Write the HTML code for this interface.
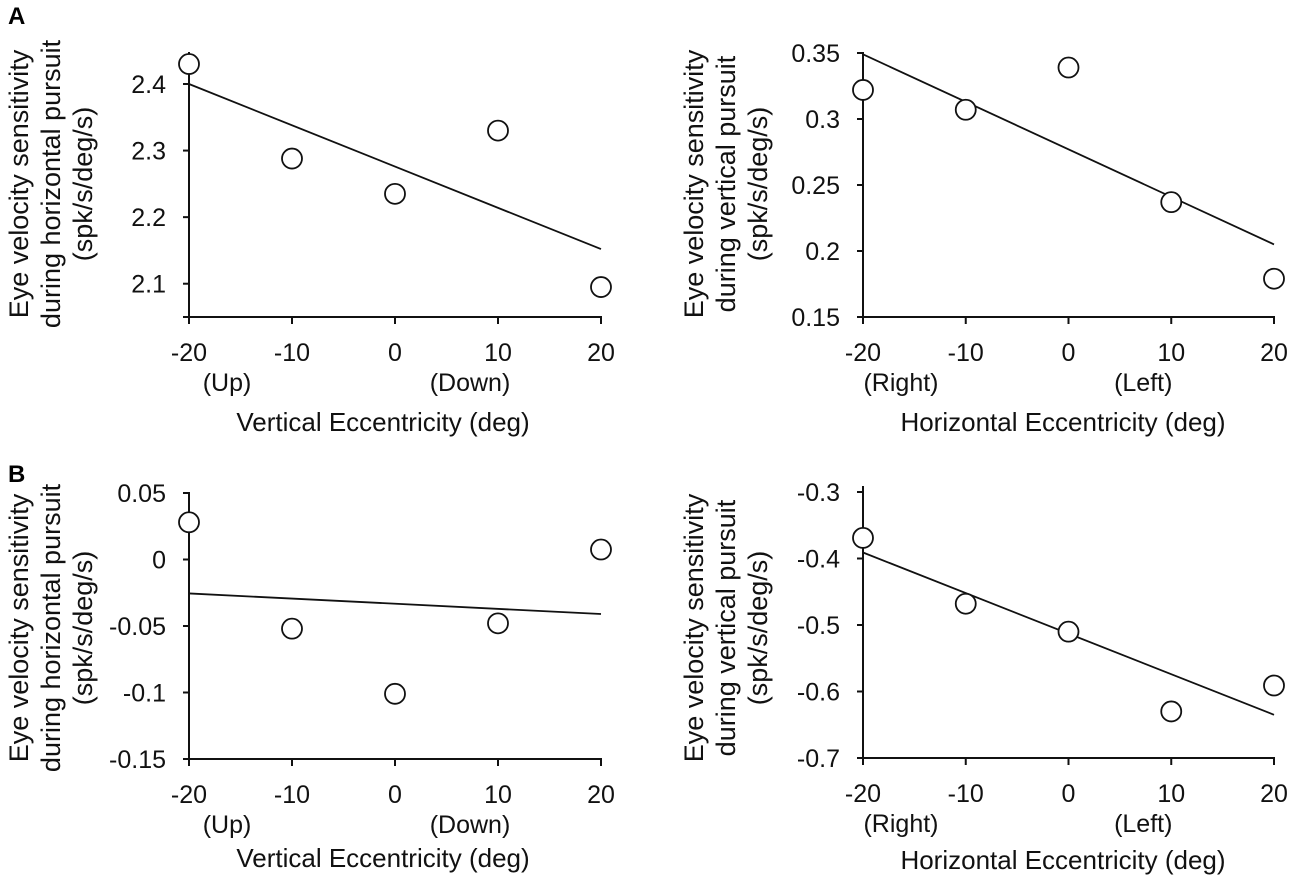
<!DOCTYPE html>
<html><head><meta charset="utf-8"><style>
html,body{margin:0;padding:0;background:#fff;}
svg{display:block;font-family:"Liberation Sans",sans-serif;}
</style></head><body>
<svg id="fig" width="1300" height="879" viewBox="0 0 1300 879" xmlns="http://www.w3.org/2000/svg">
<text x="8" y="24" font-size="24" font-weight="bold">A</text>
<text x="8" y="482" font-size="24" font-weight="bold">B</text>
</svg>
<script>
const xTicks = [-20, -10, 0, 10, 20];
const aLeftY = [2.43, 2.288, 2.235, 2.33, 2.095];
const aLeftFit = [2.40, 2.152];
const aLeftTicks = [2.1, 2.2, 2.3, 2.4];
const aRightY = [0.322, 0.307, 0.339, 0.237, 0.179];
const aRightFit = [0.349, 0.205];
const aRightTicks = [0.15, 0.2, 0.25, 0.3, 0.35];
const bLeftY = [0.028, -0.052, -0.101, -0.048, 0.0075];
const bLeftFit = [-0.0255, -0.041];
const bLeftTicks = [-0.15, -0.1, -0.05, 0, 0.05];
const bRightY = [-0.369, -0.468, -0.51, -0.63, -0.591];
const bRightFit = [-0.391, -0.635];
const bRightTicks = [-0.7, -0.6, -0.5, -0.4, -0.3];

const NS = "http://www.w3.org/2000/svg";
const svg = document.getElementById('fig');
function mk(tag, attrs, parent){const e=document.createElementNS(NS,tag);for(const k in attrs)e.setAttribute(k,attrs[k]);(parent||svg).appendChild(e);return e;}

function panel(id, cfg){
  const g = mk('g',{});
  
  
  const x0=cfg.x0,x1=cfg.x1,yb=cfg.yb;
  const xs = v => x0 + (v - (-20)) / 40 * (x1 - x0);
  const ys = v => yb - (v - cfg.ymin) / (cfg.ymax - cfg.ymin) * (yb - cfg.ytop);
  const ya = mk('line',{x1:x0,y1:cfg.axTop,x2:x0,y2:yb+6,stroke:'#111','stroke-width':2},g);
  
  
  const xa = mk('line',{x1:x0-6,y1:yb,x2:x1+1,y2:yb,stroke:'#111','stroke-width':2},g);
  
  
  cfg.yticks.forEach(t=>{
    const y=ys(t);
    mk('line',{x1:x0-6,y1:y,x2:x0,y2:y,stroke:'#111','stroke-width':2},g);
    const tx=mk('text',{x:x0-23,y:y+9,'font-size':25,'text-anchor':'end',fill:'#111'},g);
    tx.textContent=String(t);
    
    
  });
  xTicks.forEach(t=>{
    const x=xs(t);
    mk('line',{x1:x,y1:yb,x2:x,y2:yb+7,stroke:'#111','stroke-width':2},g);
    const tx=mk('text',{x:x,y:yb+44,'font-size':25,'text-anchor':'middle',fill:'#111'},g);
    tx.textContent=String(t);
    
    
  });
  const fl = mk('line',{x1:xs(-20),y1:ys(cfg.fit[0]),x2:xs(20),y2:ys(cfg.fit[1]),stroke:'#111','stroke-width':1.8},g);
  
  
  cfg.vals.forEach((v,i)=>{
    const c=mk('circle',{cx:xs(xTicks[i]),cy:ys(v),r:10,fill:'#fff',stroke:'#111','stroke-width':1.8},g);
    
    
  });
  const d1=mk('text',{x:xs(-20)+38,y:yb+74,'font-size':25,'text-anchor':'middle',fill:'#111'},g);
  d1.textContent=cfg.dir[0];
  
  
  const d2=mk('text',{x:xs(10)-28,y:yb+74,'font-size':25,'text-anchor':'middle',fill:'#111'},g);
  d2.textContent=cfg.dir[1];
  
  
  const xl=mk('text',{x:cfg.xlabX,y:yb+cfg.xlabDy,'font-size':26,'text-anchor':'middle',fill:'#111'},g);
  xl.textContent=cfg.xlab;
  
  
  const yl=mk('text',{'font-size':27,'text-anchor':'middle',fill:'#111',transform:`translate(${cfg.ylabX},${cfg.ylabY}) rotate(-90)`},g);
  
  
  cfg.ylab.forEach((s,i)=>{const ts=mk('tspan',{x:0,y:i*32},yl);ts.textContent=s;});
}

panel('panel-a-left',{x0:189,x1:601,yb:317,ytop:84,ymin:2.05,ymax:2.4,axTop:52,yticks:aLeftTicks,vals:aLeftY,fit:aLeftFit,
  dir:['(Up)','(Down)'],xlab:'Vertical Eccentricity (deg)',xlabX:383,xlabDy:114,
  ylab:['Eye velocity sensitivity','during horizontal pursuit','(spk/s/deg/s)'],ylabX:28,ylabY:184});
panel('panel-a-right',{x0:863,x1:1274,yb:317,ytop:53,ymin:0.15,ymax:0.35,axTop:52,yticks:aRightTicks,vals:aRightY,fit:aRightFit,
  dir:['(Right)','(Left)'],xlab:'Horizontal Eccentricity (deg)',xlabX:1063,xlabDy:114,
  ylab:['Eye velocity sensitivity','during vertical pursuit','(spk/s/deg/s)'],ylabX:703,ylabY:184});
panel('panel-b-left',{x0:189,x1:601,yb:759,ytop:493,ymin:-0.15,ymax:0.05,axTop:492,yticks:bLeftTicks,vals:bLeftY,fit:bLeftFit,
  dir:['(Up)','(Down)'],xlab:'Vertical Eccentricity (deg)',xlabX:383,xlabDy:108,
  ylab:['Eye velocity sensitivity','during horizontal pursuit','(spk/s/deg/s)'],ylabX:28,ylabY:628});
panel('panel-b-right',{x0:863,x1:1274,yb:758,ytop:492,ymin:-0.7,ymax:-0.3,axTop:486,yticks:bRightTicks,vals:bRightY,fit:bRightFit,
  dir:['(Right)','(Left)'],xlab:'Horizontal Eccentricity (deg)',xlabX:1063,xlabDy:111,
  ylab:['Eye velocity sensitivity','during vertical pursuit','(spk/s/deg/s)'],ylabX:703,ylabY:628});
</script>
</body></html>
